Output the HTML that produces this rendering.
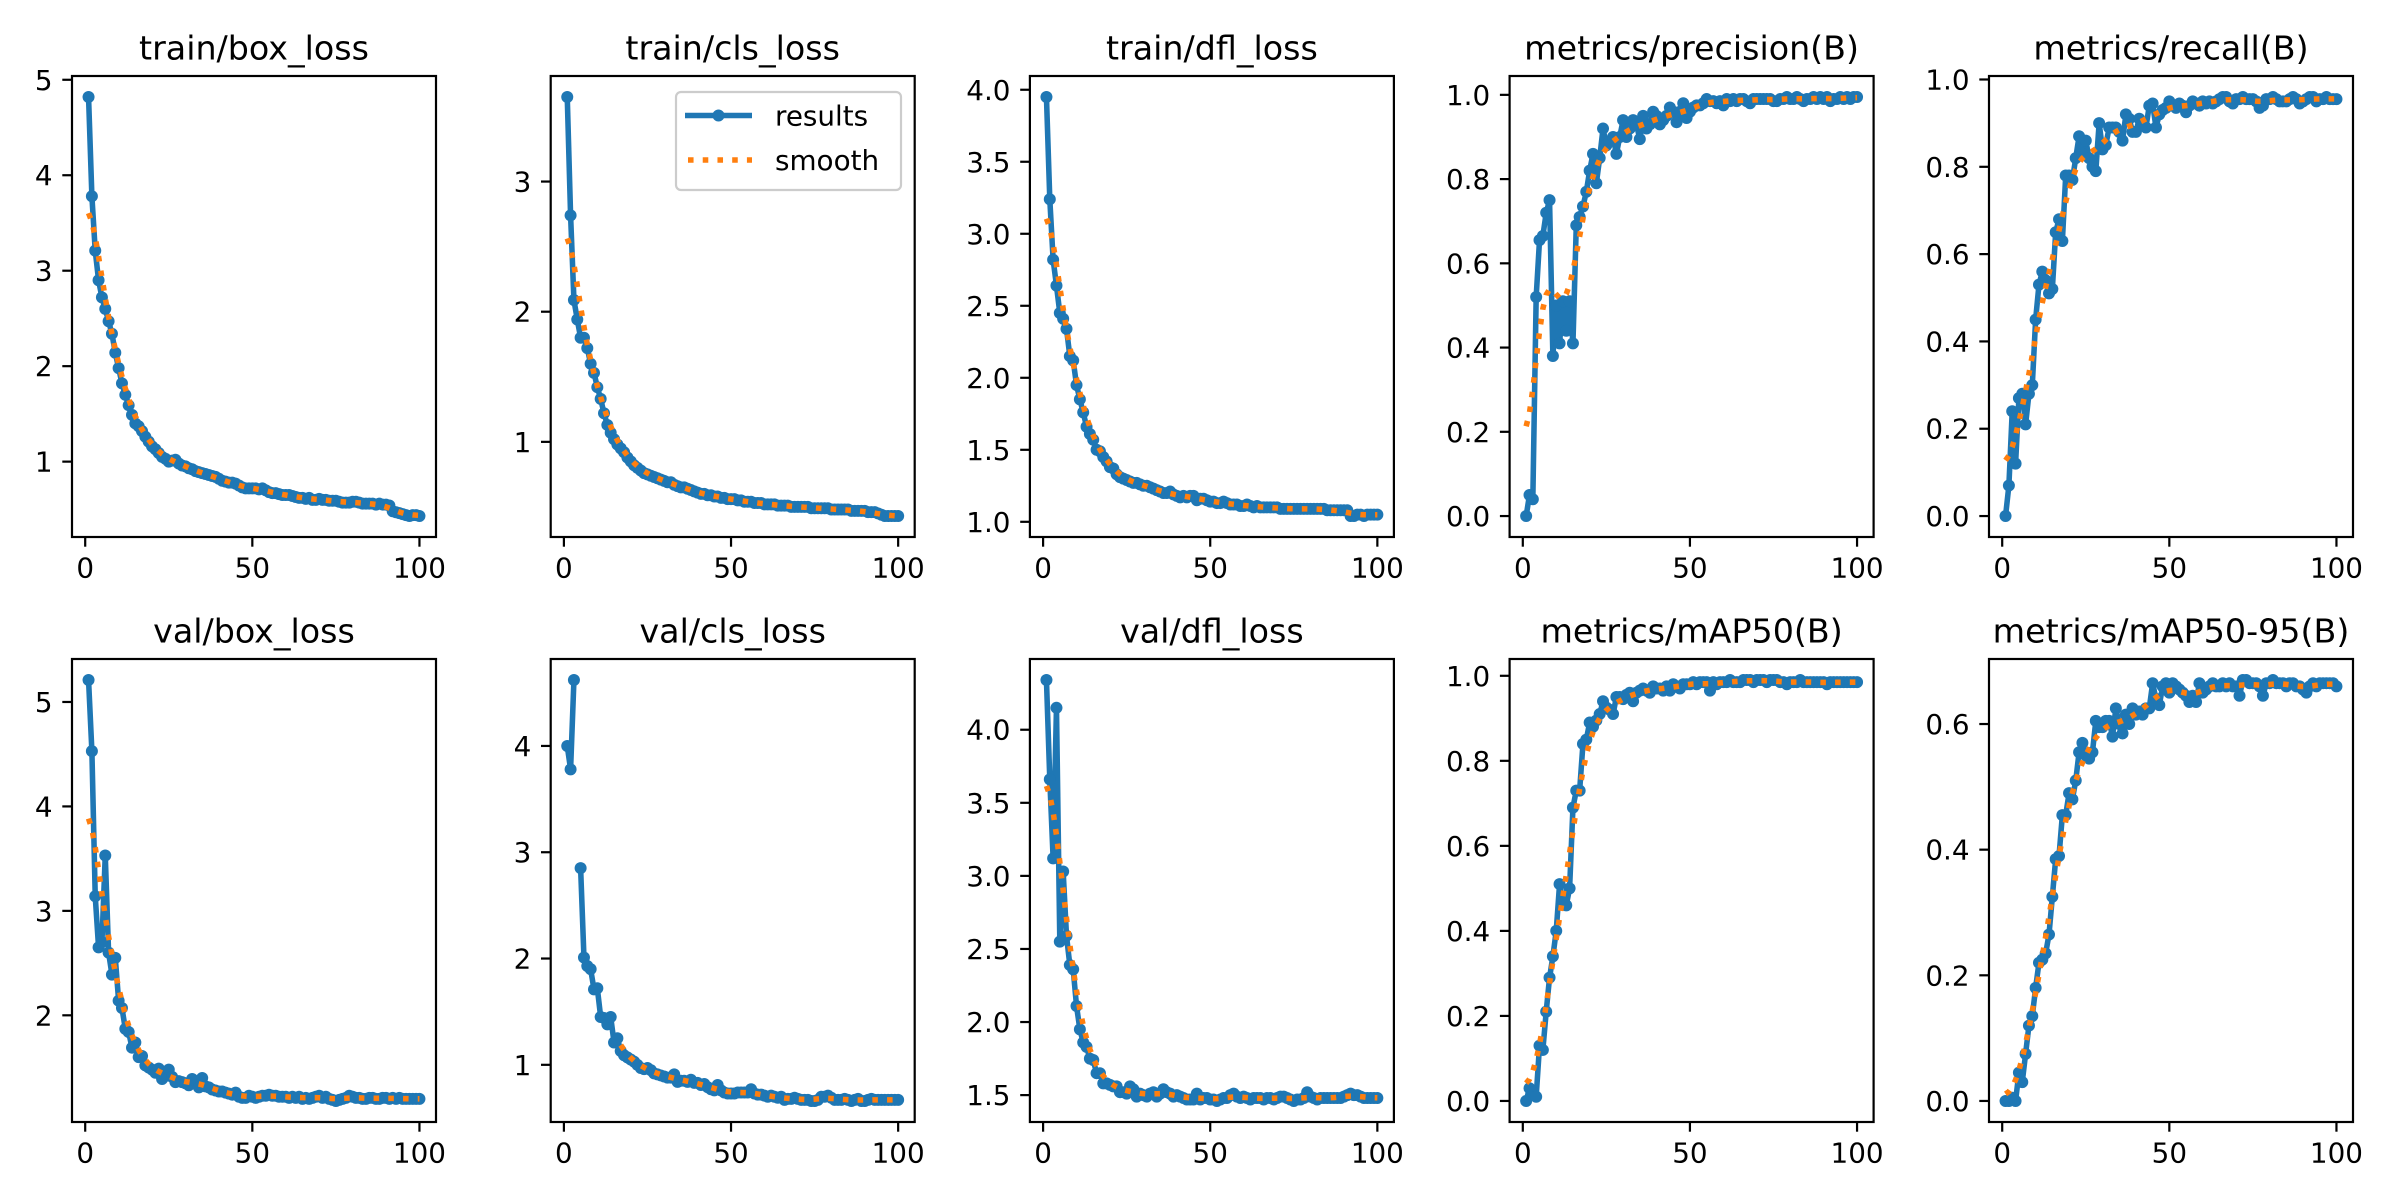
<!DOCTYPE html>
<html><head><meta charset="utf-8">
<style>
html,body{margin:0;padding:0;background:#fff;}
svg{display:block;}
text{font-family:"DejaVu Sans","Liberation Sans",sans-serif;fill:#000;}
</style></head>
<body>
<svg id="fig" xmlns="http://www.w3.org/2000/svg" width="2400" height="1200" viewBox="0 0 2400 1200"></svg>
<script>
// ---------- data ----------
const titles = ["train/box_loss","train/cls_loss","train/dfl_loss","metrics/precision(B)","metrics/recall(B)",
"val/box_loss","val/cls_loss","val/dfl_loss","metrics/mAP50(B)","metrics/mAP50-95(B)"];

const trainBox = [4.82,3.78,3.21,2.90,2.72,2.60,2.47,2.34,2.14,1.98,1.82,1.70,1.59,1.49,1.40,1.37,1.32,1.26,1.21,1.16,
1.13,1.09,1.05,1.03,1.00,1.01,1.02,0.98,0.96,0.95,0.93,0.92,0.90,0.89,0.88,0.87,0.86,0.85,0.84,0.82,
0.80,0.79,0.78,0.78,0.77,0.75,0.73,0.72,0.72,0.72,0.72,0.71,0.72,0.70,0.68,0.67,0.67,0.66,0.65,0.65,
0.65,0.64,0.63,0.62,0.62,0.61,0.62,0.60,0.60,0.61,0.60,0.60,0.59,0.59,0.59,0.58,0.57,0.57,0.57,0.58,
0.58,0.57,0.56,0.56,0.56,0.56,0.55,0.56,0.55,0.55,0.54,0.48,0.47,0.46,0.45,0.44,0.43,0.44,0.44,0.43];

const trainCls = [3.65,2.74,2.09,1.94,1.80,1.80,1.72,1.60,1.53,1.42,1.33,1.22,1.13,1.07,1.02,0.98,0.95,0.92,0.88,0.85,
0.82,0.80,0.78,0.76,0.75,0.74,0.73,0.72,0.71,0.70,0.69,0.69,0.67,0.66,0.65,0.65,0.64,0.63,0.62,0.61,
0.60,0.60,0.59,0.59,0.58,0.58,0.57,0.57,0.56,0.56,0.56,0.55,0.55,0.54,0.54,0.54,0.53,0.53,0.53,0.52,
0.52,0.52,0.52,0.51,0.51,0.51,0.51,0.50,0.50,0.50,0.50,0.50,0.50,0.49,0.49,0.49,0.49,0.49,0.49,0.48,
0.48,0.48,0.48,0.48,0.48,0.47,0.47,0.47,0.47,0.47,0.46,0.46,0.46,0.45,0.44,0.43,0.43,0.43,0.43,0.43];

const trainDfl = [3.95,3.24,2.82,2.64,2.45,2.41,2.34,2.15,2.12,1.95,1.85,1.76,1.66,1.61,1.57,1.50,1.49,1.45,1.42,1.38,
1.37,1.33,1.31,1.30,1.29,1.28,1.27,1.27,1.26,1.25,1.25,1.24,1.23,1.22,1.21,1.20,1.20,1.21,1.19,1.18,
1.17,1.18,1.17,1.18,1.18,1.15,1.16,1.16,1.15,1.14,1.14,1.13,1.13,1.14,1.13,1.12,1.12,1.12,1.11,1.11,
1.12,1.11,1.10,1.11,1.10,1.10,1.10,1.10,1.10,1.10,1.09,1.09,1.09,1.09,1.09,1.09,1.09,1.09,1.09,1.09,
1.09,1.09,1.09,1.09,1.08,1.08,1.08,1.08,1.08,1.08,1.08,1.04,1.04,1.05,1.05,1.04,1.05,1.05,1.05,1.05];

const precision = [0.00,0.05,0.04,0.52,0.655,0.665,0.72,0.75,0.38,0.50,0.41,0.51,0.44,0.51,0.41,0.69,0.71,0.735,0.77,0.82,
0.86,0.79,0.85,0.92,0.88,0.89,0.90,0.86,0.90,0.94,0.90,0.92,0.94,0.93,0.895,0.95,0.92,0.93,0.96,0.95,
0.93,0.94,0.95,0.97,0.96,0.935,0.96,0.98,0.945,0.96,0.97,0.975,0.975,0.98,0.99,0.985,0.985,0.98,0.985,0.975,
0.99,0.985,0.99,0.985,0.99,0.99,0.985,0.98,0.99,0.99,0.99,0.99,0.99,0.99,0.985,0.985,0.99,0.99,0.995,0.99,
0.99,0.995,0.99,0.985,0.99,0.99,0.995,0.99,0.995,0.99,0.995,0.985,0.99,0.99,0.995,0.99,0.995,0.99,0.995,0.995];

const recall = [0.00,0.07,0.24,0.12,0.27,0.28,0.21,0.28,0.30,0.45,0.53,0.56,0.54,0.51,0.52,0.65,0.68,0.63,0.78,0.78,
0.77,0.82,0.87,0.83,0.86,0.82,0.80,0.79,0.90,0.84,0.85,0.89,0.89,0.89,0.88,0.86,0.92,0.91,0.88,0.88,
0.91,0.90,0.89,0.94,0.945,0.89,0.92,0.93,0.935,0.95,0.94,0.935,0.945,0.94,0.925,0.94,0.95,0.945,0.94,0.95,
0.945,0.95,0.945,0.95,0.955,0.96,0.96,0.95,0.945,0.955,0.955,0.96,0.955,0.955,0.955,0.95,0.935,0.94,0.955,0.955,
0.96,0.955,0.95,0.95,0.95,0.955,0.96,0.955,0.945,0.95,0.955,0.96,0.96,0.95,0.955,0.955,0.96,0.955,0.955,0.955];

const valBox = [5.21,4.53,3.14,2.65,2.70,3.53,2.60,2.39,2.55,2.14,2.07,1.87,1.84,1.69,1.74,1.60,1.61,1.52,1.50,1.48,
1.45,1.49,1.39,1.42,1.48,1.41,1.36,1.37,1.36,1.35,1.33,1.39,1.37,1.31,1.40,1.32,1.31,1.29,1.28,1.27,
1.27,1.26,1.25,1.24,1.26,1.22,1.21,1.21,1.23,1.22,1.21,1.22,1.23,1.23,1.24,1.23,1.23,1.22,1.22,1.22,
1.21,1.22,1.21,1.22,1.20,1.21,1.20,1.21,1.22,1.23,1.21,1.22,1.20,1.19,1.18,1.19,1.20,1.21,1.23,1.22,
1.21,1.21,1.20,1.20,1.21,1.21,1.20,1.20,1.21,1.21,1.20,1.21,1.20,1.21,1.20,1.20,1.20,1.20,1.20,1.20];

const valCls = [4.00,3.78,4.62,NaN,2.85,2.01,1.93,1.90,1.71,1.72,1.45,1.44,1.38,1.45,1.21,1.25,1.13,1.09,1.07,1.05,
1.03,1.00,0.97,0.96,0.97,0.95,0.92,0.91,0.90,0.89,0.88,0.88,0.91,0.84,0.85,0.85,0.84,0.86,0.83,0.83,
0.81,0.82,0.79,0.77,0.76,0.81,0.76,0.74,0.73,0.73,0.73,0.74,0.74,0.74,0.74,0.77,0.73,0.72,0.72,0.71,
0.70,0.71,0.70,0.69,0.70,0.67,0.68,0.68,0.69,0.68,0.67,0.67,0.67,0.66,0.66,0.67,0.70,0.70,0.71,0.69,
0.67,0.67,0.67,0.68,0.67,0.66,0.67,0.68,0.66,0.66,0.67,0.68,0.67,0.67,0.67,0.67,0.67,0.67,0.67,0.67];

const valDfl = [4.34,3.66,3.12,4.15,2.55,3.03,2.59,2.39,2.36,2.11,1.95,1.86,1.83,1.75,1.74,1.65,1.65,1.58,1.58,1.57,
1.56,1.56,1.52,1.52,1.51,1.56,1.54,1.49,1.51,1.50,1.49,1.51,1.52,1.49,1.51,1.54,1.52,1.51,1.49,1.50,
1.49,1.48,1.47,1.47,1.47,1.51,1.47,1.48,1.48,1.47,1.47,1.46,1.47,1.48,1.48,1.50,1.51,1.49,1.48,1.49,
1.48,1.47,1.48,1.48,1.48,1.47,1.48,1.48,1.47,1.48,1.49,1.49,1.48,1.47,1.46,1.47,1.47,1.48,1.52,1.49,
1.48,1.47,1.48,1.48,1.48,1.48,1.48,1.48,1.48,1.49,1.50,1.51,1.50,1.50,1.49,1.48,1.48,1.48,1.48,1.48];

const map50 = [0.00,0.03,0.02,0.01,0.13,0.12,0.21,0.29,0.34,0.40,0.51,0.47,0.46,0.50,0.69,0.73,0.73,0.84,0.85,0.89,
0.88,0.895,0.91,0.94,0.925,0.92,0.91,0.95,0.95,0.945,0.955,0.96,0.94,0.96,0.965,0.97,0.965,0.96,0.975,0.97,
0.97,0.965,0.975,0.965,0.98,0.975,0.97,0.98,0.98,0.98,0.985,0.98,0.985,0.985,0.985,0.965,0.985,0.98,0.985,0.985,
0.985,0.99,0.985,0.985,0.985,0.99,0.99,0.99,0.985,0.99,0.99,0.99,0.985,0.99,0.99,0.99,0.985,0.985,0.98,0.985,
0.985,0.985,0.99,0.985,0.985,0.985,0.985,0.985,0.985,0.985,0.98,0.985,0.985,0.985,0.985,0.985,0.985,0.985,0.985,0.985];

const map5095 = [0.00,0.00,0.005,0.00,0.045,0.03,0.075,0.12,0.135,0.18,0.22,0.225,0.235,0.265,0.325,0.385,0.39,0.455,0.455,0.49,
0.48,0.51,0.555,0.57,0.55,0.545,0.555,0.605,0.595,0.595,0.605,0.605,0.58,0.625,0.60,0.585,0.615,0.60,0.625,0.615,
0.62,0.615,0.625,0.625,0.665,0.64,0.63,0.66,0.665,0.65,0.665,0.66,0.655,0.65,0.645,0.635,0.645,0.635,0.665,0.65,
0.655,0.66,0.665,0.66,0.66,0.665,0.66,0.665,0.66,0.66,0.645,0.67,0.67,0.665,0.665,0.665,0.66,0.645,0.665,0.665,
0.67,0.665,0.665,0.665,0.66,0.665,0.665,0.66,0.66,0.655,0.65,0.66,0.665,0.66,0.665,0.665,0.665,0.665,0.665,0.66];

const seriesList = [trainBox,trainCls,trainDfl,precision,recall,valBox,valCls,valDfl,map50,map5095];

const yTickValues = [[1,2,3,4,5],[1,2,3],[1.0,1.5,2.0,2.5,3.0,3.5,4.0],[0,0.2,0.4,0.6,0.8,1.0],[0,0.2,0.4,0.6,0.8,1.0],
[2,3,4,5],[1,2,3,4],[1.5,2.0,2.5,3.0,3.5,4.0],[0,0.2,0.4,0.6,0.8,1.0],[0,0.2,0.4,0.6]];
const yTickLabels = [["1","2","3","4","5"],["1","2","3"],["1.0","1.5","2.0","2.5","3.0","3.5","4.0"],
["0.0","0.2","0.4","0.6","0.8","1.0"],["0.0","0.2","0.4","0.6","0.8","1.0"],
["2","3","4","5"],["1","2","3","4"],["1.5","2.0","2.5","3.0","3.5","4.0"],
["0.0","0.2","0.4","0.6","0.8","1.0"],["0.0","0.2","0.4","0.6"]];
const xTickValues = [0,50,100];
const xTickLabels = ["0","50","100"];

// ---------- helpers ----------
const NS = "http://www.w3.org/2000/svg";
const svg = document.getElementById("fig");
function mk(tag, attrs, parent){
  const e = document.createElementNS(NS, tag);
  for (const k in attrs) e.setAttribute(k, attrs[k]);
  (parent||svg).appendChild(e);
  return e;
}
function gaussSmooth(y, sigma){
  const r = Math.floor(4*sigma+0.5), n = y.length, w = [];
  let s = 0;
  for (let i=-r;i<=r;i++){ const v=Math.exp(-0.5*i*i/(sigma*sigma)); w.push(v); s+=v; }
  for (let i=0;i<w.length;i++) w[i]/=s;
  const idx = k => {
    while (k<0 || k>=n){ if(k<0) k=-k-1; if(k>=n) k=2*n-k-1; }
    return k;
  };
  const out=[];
  for (let i=0;i<n;i++){ let a=0; for(let j=-r;j<=r;j++) a+=w[j+r]*y[idx(i+j)]; out.push(a); }
  return out;
}

const lefts = [72,550.7,1029.9,1509.6,1989];
const tops = [76,659];
const AW = 364, AHs = [461,463];
const BLUE="#1f77b4", ORANGE="#ff7f0e";

seriesList.forEach((ys, p) => {
  const row = Math.floor(p/5), col = p%5;
  const L = lefts[col], T = tops[row], H = AHs[row];
  const xs = ys.map((_,i)=>i+1);
  const sm = gaussSmooth(ys, 3);
  const fin = ys.concat(sm).filter(v=>isFinite(v));
  let lo = Math.min(...fin), hi = Math.max(...fin), m = (hi-lo)*0.05;
  const y0 = lo-m, y1 = hi+m;
  const x0 = 1-0.05*99, x1 = 100+0.05*99;
  const sx = v => L + (v-x0)/(x1-x0)*AW;
  const sy = v => T + H - (v-y0)/(y1-y0)*H;

  const g = mk("g", {});
  
  

  const cid = "clip"+p;
  const cp = mk("clipPath",{id:cid}, g);
  mk("rect",{x:L,y:T,width:AW,height:H}, cp);

  const t = mk("text",{x:L+AW/2,y:T-16.7,"text-anchor":"middle","font-size":"33.3"}, g);
  t.textContent = titles[p];
  
  

  const pg = mk("g",{"clip-path":"url(#"+cid+")"}, g);
  let d = "", pen = false;
  ys.forEach((v,i)=>{
    if (!isFinite(v)) { pen=false; return; }
    d += (pen?"L":"M") + sx(xs[i]).toFixed(2)+","+sy(v).toFixed(2);
    pen = true;
  });
  const line = mk("path",{d:d,fill:"none",stroke:BLUE,"stroke-width":5.56,"stroke-linejoin":"round","stroke-linecap":"butt"}, pg);
  
  
  ys.forEach((v,i)=>{
    if (!isFinite(v)) return;
    const c = mk("circle",{cx:sx(xs[i]).toFixed(2),cy:sy(v).toFixed(2),r:6,fill:BLUE}, pg);
    
    
  });
  let d2 = "", pen2 = false;
  sm.forEach((v,i)=>{
    if (!isFinite(v)) { pen2=false; return; }
    d2 += (pen2?"L":"M") + sx(xs[i]).toFixed(2)+","+sy(v).toFixed(2);
    pen2 = true;
  });
  const sl = mk("path",{d:d2,fill:"none",stroke:ORANGE,"stroke-width":5.56,"stroke-dasharray":"5.56 9.17"}, pg);
  
  

  const fr = mk("rect",{x:L,y:T,width:AW,height:H,fill:"none",stroke:"#000","stroke-width":2.2}, g);
  
  

  xTickValues.forEach((v,i)=>{
    const X = sx(v);
    mk("line",{x1:X,x2:X,y1:T+H,y2:T+H+9.7,stroke:"#000","stroke-width":2.2}, g);
    const tl = mk("text",{x:X,y:T+H+19.4+21,"text-anchor":"middle","font-size":"27.8"}, g);
    tl.textContent = xTickLabels[i];
    
    
  });
  yTickValues[p].forEach((v,i)=>{
    if (v < y0 || v > y1) return;
    const Y = sy(v);
    mk("line",{x1:L-9.7,x2:L,y1:Y,y2:Y,stroke:"#000","stroke-width":2.2}, g);
    const tl = mk("text",{x:L-19.4,y:Y+10,"text-anchor":"end","font-size":"27.8"}, g);
    tl.textContent = yTickLabels[p][i];
    
    
  });
});

const lg = mk("g",{});


mk("rect",{x:676,y:92,width:225,height:98,rx:5,fill:"#fff","fill-opacity":0.8,stroke:"#cccccc","stroke-width":2.2}, lg);
mk("line",{x1:685,x2:752,y1:115.5,y2:115.5,stroke:BLUE,"stroke-width":5.56}, lg);
mk("circle",{cx:718.5,cy:115.5,r:6,fill:BLUE}, lg);
const l1 = mk("text",{x:775,y:125.5,"font-size":"27.8"}, lg);
l1.textContent = "results";


mk("line",{x1:688,x2:752,y1:160,y2:160,stroke:ORANGE,"stroke-width":5.56,"stroke-dasharray":"5.56 9.17"}, lg);
const l2 = mk("text",{x:775,y:170,"font-size":"27.8"}, lg);
l2.textContent = "smooth";


</script>
</body></html>
